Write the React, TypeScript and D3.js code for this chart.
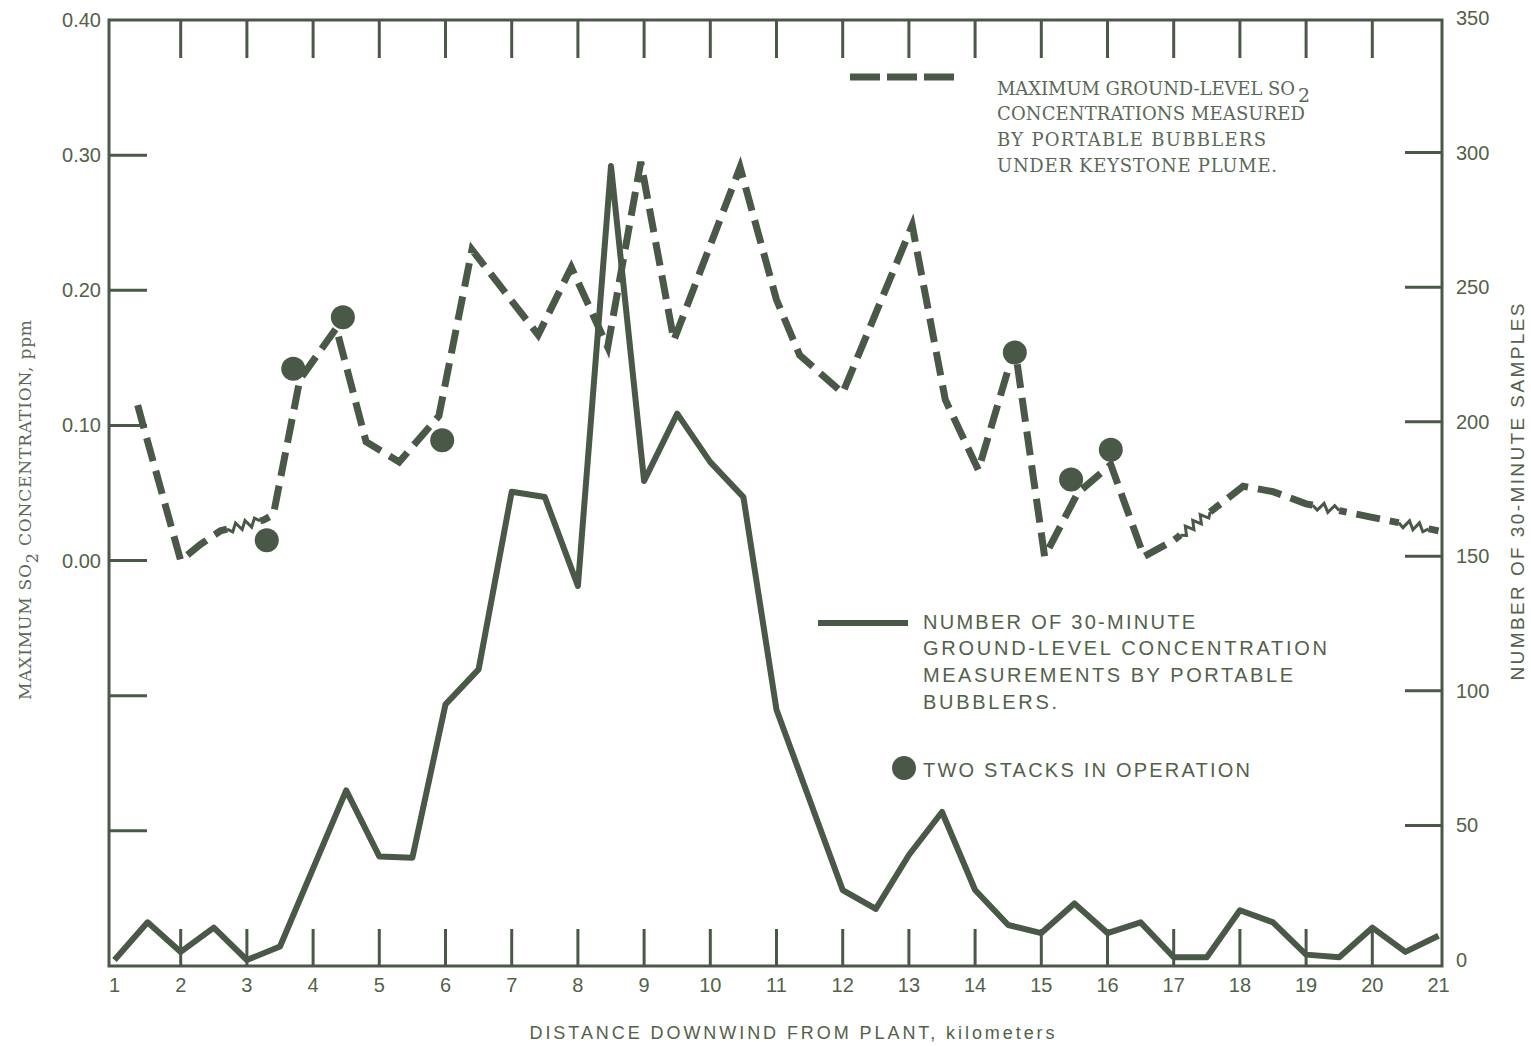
import React from 'react';
import * as d3 from 'd3';

// Solid series: number of 30-minute samples (right axis)
const countKm = [1,1.5,2,2.5,3,3.5,4.5,5,5.5,6,6.5,7,7.5,8,8.5,9,9.5,10,10.5,11,12,12.5,13,13.5,14,14.5,15,15.5,16,16.5,17,17.5,18,18.5,19,19.5,20,20.5,21];
const counts = [0,14,3,12,0,5,63,38.5,38,95,108,174,172,139,295,178,203,185,172,93,26,19,39,55,26,13,10,21,10,14,1,1,18.5,14,2,1,12,3,9];

// Dashed series: maximum ground-level SO2 (left axis, ppm)
const so2Km = [1.35,1.45,2.0,2.3,2.6,3.25,3.4,3.8,4.35,4.8,5.3,5.9,6.4,7.4,7.9,8.45,8.95,9.45,10.45,11.0,11.35,12.0,13.05,13.55,14.05,14.6,15.05,15.55,16.05,16.55,17.0,18.05,18.5,19.0,20.0,21.0];
const so2Ppm = [0.115,0.097,0.0,0.012,0.022,0.03,0.034,0.134,0.172,0.088,0.073,0.107,0.23,0.167,0.217,0.158,0.295,0.163,0.291,0.193,0.152,0.124,0.248,0.119,0.067,0.158,0.003,0.05,0.071,0.003,0.015,0.055,0.051,0.042,0.032,0.022];

// Two stacks in operation (dots, left axis)
const stackKm = [3.3,3.7,4.45,5.95,14.6,15.45,16.05];
const stackPpm = [0.015,0.142,0.18,0.089,0.154,0.06,0.082];

// Squiggly (broken) portions of the dashed curve, km ranges
const squiggles: [number, number][] = [[2.7,3.2],[17.1,17.55],[19.1,19.5],[20.4,20.85]];

const xTicks = d3.range(1, 22);
const leftTicks = [-0.3,-0.2,-0.1,0,0.1,0.2,0.3,0.4];
const rightTicks = [0,50,100,150,200,250,300,350];

const INK = '#4a5848';
const TXT = '#526149';
const TYPE = '#5a6957';

export default function App() {
  const x = d3.scaleLinear().domain([1, 21]).range([114.5, 1438.5]);
  const yL = d3.scaleLinear().domain([-0.3, 0.4]).range([966, 20]);
  const yR = d3.scaleLinear().domain([0, 350]).range([960, 18]);
  const fL = 109, fR = 1442, fT = 20, fB = 966;

  const solid = d3.line<number>().x((d, i) => x(countKm[i])).y(d => yR(d))(counts) || '';
  const dashed = d3.line<number>().x((d, i) => x(so2Km[i])).y(d => yL(d))(so2Ppm) || '';
  const along = d3.scaleLinear().domain(so2Km).range(so2Ppm);

  const squigglePaths = squiggles.map(([a, b]) => {
    const x0 = x(a), y0 = yL(along(a)), x1 = x(b), y1 = yL(along(b));
    const dx = x1 - x0, dy = y1 - y0, len = Math.hypot(dx, dy);
    const ux = dx / len, uy = dy / len, nx = -uy, ny = ux;
    const n = Math.max(4, Math.round(len / 5));
    const pts: [number, number][] = [];
    for (let k = 0; k <= n; k++) {
      const t = k / n;
      const amp = k === 0 || k === n ? 0 : (k % 2 ? 4 : -4);
      pts.push([x0 + dx * t + nx * amp, y0 + dy * t + ny * amp]);
    }
    return { under: `M${x0},${y0}L${x1},${y1}`, zig: d3.line()(pts) || '' };
  });

  const sans = '"Liberation Sans", Arial, sans-serif';
  const type = '"DejaVu Serif", "Liberation Serif", serif';

  return (
    <svg width={1531} height={1046} style={{ position: 'absolute', left: 0, top: 0, background: '#fff' }}>
      <rect x={0} y={0} width={1531} height={1046} fill="#fff" />
      {/* frame */}
      <path d={`M${fL},${fB}L${fL},${fT}L${fR},${fT}L${fR},${fB}Z`} fill="none" stroke={INK} strokeWidth={3} />
      {/* top and bottom ticks */}
      {xTicks.filter(t => t > 1 && t < 21).map(t => (
        <g key={'xt' + t}>
          <line x1={x(t)} x2={x(t)} y1={fT} y2={fT + 38} stroke={INK} strokeWidth={3} />
          <line x1={x(t)} x2={x(t)} y1={fB} y2={fB - 37} stroke={INK} strokeWidth={3} />
        </g>
      ))}
      {xTicks.map(t => (
        <text key={'xl' + t} x={x(t)} y={992} textAnchor="middle" fontFamily={sans} fontSize={20} fill={TXT}>{t}</text>
      ))}
      {/* left ticks */}
      {leftTicks.filter(t => t > -0.3 && t < 0.4).map(t => (
        <line key={'lt' + t} x1={fL} x2={fL + 38} y1={yL(t)} y2={yL(t)} stroke={INK} strokeWidth={3} />
      ))}
      {leftTicks.filter(t => t >= 0).map(t => (
        <text key={'ll' + t} x={101} y={yL(t) + 7} textAnchor="end" fontFamily={sans} fontSize={20} fill={TXT}>{t.toFixed(2)}</text>
      ))}
      {/* right ticks */}
      {rightTicks.filter(t => t > 0 && t < 350).map(t => (
        <line key={'rt' + t} x1={fR} x2={fR - 37} y1={yR(t)} y2={yR(t)} stroke={INK} strokeWidth={3} />
      ))}
      {rightTicks.map(t => (
        <text key={'rl' + t} x={1456} y={yR(t) + 7} textAnchor="start" fontFamily={sans} fontSize={20} fill={TXT}>{t}</text>
      ))}
      {/* axis titles */}
      <text x={792} y={1039} textAnchor="middle" fontFamily={sans} fontSize={18} fill={TXT} textLength={525} lengthAdjust="spacing">DISTANCE DOWNWIND FROM PLANT, kilometers</text>
      <text transform="translate(31,510) rotate(-90)" textAnchor="middle" fontFamily={type} fontSize={17} fill={TYPE} textLength={380} lengthAdjust="spacing">
        MAXIMUM SO<tspan dy={7} fontSize={16}>2</tspan><tspan dy={-7}> CONCENTRATION, ppm</tspan>
      </text>
      <text transform="translate(1524,492) rotate(-90)" textAnchor="middle" fontFamily={sans} fontSize={19} fill={TXT} textLength={377} lengthAdjust="spacing">NUMBER OF 30-MINUTE SAMPLES</text>

      {/* series */}
      <path d={solid} fill="none" stroke={INK} strokeWidth={6} strokeLinejoin="round" />
      <path d={dashed} fill="none" stroke={INK} strokeWidth={7} strokeDasharray="24 10" strokeLinejoin="miter" />
      {squigglePaths.map((s, i) => (
        <g key={'sq' + i}>
          <path d={s.under} stroke="#fff" strokeWidth={11} fill="none" />
          <path d={s.zig} stroke={INK} strokeWidth={3} fill="none" />
        </g>
      ))}
      {stackKm.map((k, i) => (
        <circle key={'st' + i} cx={x(k)} cy={yL(stackPpm[i])} r={12} fill={INK} />
      ))}

      {/* legend 1 */}
      <line x1={850} x2={955} y1={77} y2={77} stroke={INK} strokeWidth={7} strokeDasharray="30 7" />
      <g fontFamily={type} fontSize={18} fill={TYPE}>
        <text x={997} y={95} textLength={298} lengthAdjust="spacing">MAXIMUM GROUND-LEVEL SO</text>
        <text x={1298} y={102} fontSize={19}>2</text>
        <text x={997} y={120} textLength={308} lengthAdjust="spacing">CONCENTRATIONS MEASURED</text>
        <text x={997} y={146} textLength={269} lengthAdjust="spacing">BY PORTABLE BUBBLERS</text>
        <text x={997} y={172} textLength={280} lengthAdjust="spacing">UNDER KEYSTONE PLUME.</text>
      </g>
      {/* legend 2 */}
      <line x1={818} x2={908} y1={623} y2={623} stroke={INK} strokeWidth={6} />
      <g fontFamily={sans} fontSize={20} fill={TXT}>
        <text x={923} y={629} textLength={272} lengthAdjust="spacing">NUMBER OF 30-MINUTE</text>
        <text x={923} y={655} textLength={404} lengthAdjust="spacing">GROUND-LEVEL CONCENTRATION</text>
        <text x={923} y={682} textLength={370} lengthAdjust="spacing">MEASUREMENTS BY PORTABLE</text>
        <text x={923} y={709} textLength={134} lengthAdjust="spacing">BUBBLERS.</text>
        <text x={923} y={777} textLength={327} lengthAdjust="spacing">TWO STACKS IN OPERATION</text>
      </g>
      <circle cx={904} cy={768} r={12} fill={INK} />
    </svg>
  );
}
